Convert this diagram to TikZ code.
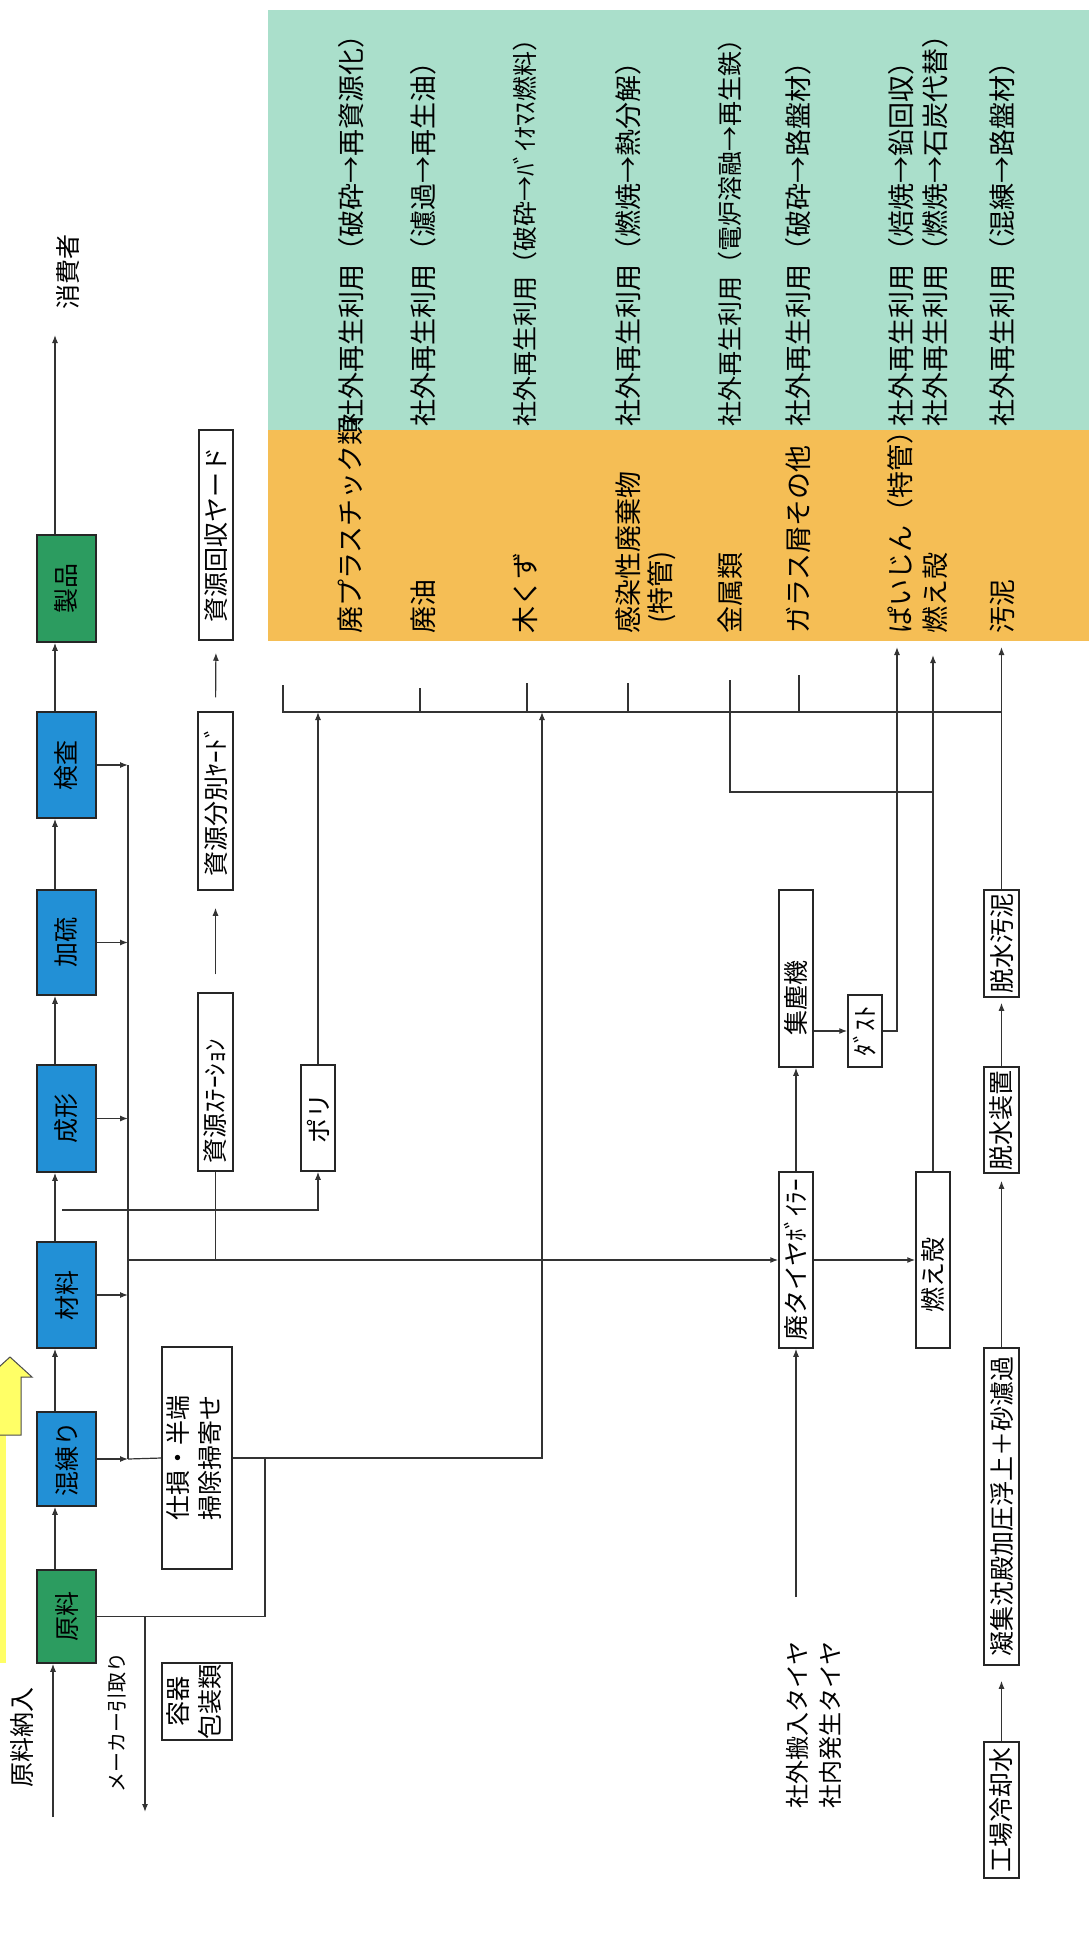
\documentclass[tikz,border=0pt]{standalone}
\usepackage{fontspec}
\setmainfont{Noto Sans CJK JP}
\usetikzlibrary{arrows.meta,calc}
\definecolor{tealbg}{HTML}{AADFCB}
\definecolor{orangebg}{HTML}{F5BE55}
\definecolor{procblue}{HTML}{2290D6}
\definecolor{procgreen}{HTML}{2C9C60}
\definecolor{arrowyellow}{HTML}{FFFF66}
\definecolor{ln}{HTML}{333333}
\newcommand{\vt}[1]{\rotatebox{90}{#1}}
\newcommand{\fbig}{\fontsize{27}{32}\selectfont}
\newcommand{\fmid}{\fontsize{25}{32}\selectfont}
\newcommand{\fsmall}{\fontsize{20}{24}\selectfont}
\begin{document}
\begin{tikzpicture}[x=1pt,y=-1pt,
  line/.style={draw=ln,line width=1.2pt},
  arr/.style={line,-{Latex[length=8pt,width=6pt]}},
  boxbase/.style={draw=black!85,line width=1.5pt,inner sep=0pt,font=\fmid},
  proc/.style={boxbase,fill=procblue,minimum width=59pt},
  procg/.style={boxbase,fill=procgreen,minimum width=59pt},
  wbox/.style={boxbase,fill=white},
  rowtxt/.style={rotate=90,anchor=west,inner sep=0pt,font=\fbig},
  lbl/.style={rotate=90,inner sep=0pt}]
\useasboundingbox (0,0) rectangle (1089,1934);
\fill[white] (0,0) rectangle (1089,1934);

% coloured table
\fill[tealbg] (268,10) rectangle (1089,430);
\fill[orangebg] (268,430) rectangle (1089,641);

% yellow block arrow (cut by the left edge)
\fill[arrowyellow] (0,1435) rectangle (6,1663);
\filldraw[fill=arrowyellow,draw=black!70,line width=1pt]
  (-1,1435) -- (21,1435) -- (21,1377) -- (32,1377) -- (10,1357) -- (-12,1377) -- (-1,1377) -- cycle;

% main process boxes
\node[procg,minimum height=107pt] (seihin) at (66.5,588.5) {\vt{製品}};
\node[proc,minimum height=106pt] (kensa) at (66.5,765) {\vt{検査}};
\node[proc,minimum height=105pt] (karyu) at (66.5,942.5) {\vt{加硫}};
\node[proc,minimum height=107pt] (seikei) at (66.5,1118.5) {\vt{成形}};
\node[proc,minimum height=106pt] (zairyo) at (66.5,1295) {\vt{材料}};
\node[proc,minimum height=94pt] (konren) at (66.5,1459) {\vt{混練り}};
\node[procg,minimum height=93pt] (genryo) at (66.5,1616.5) {\vt{原料}};

% white boxes
\node[wbox,minimum width=70pt,minimum height=222pt] (shison) at (197,1458)
  {\vt{\begin{tabular}{@{}c@{}}仕損・半端\\掃除掃寄せ\end{tabular}}};
\node[wbox,minimum width=70pt,minimum height=77pt] (yoki) at (197,1701.5)
  {\vt{\begin{tabular}{@{}c@{}}容器\\包装類\end{tabular}}};
\node[wbox,minimum width=35pt,minimum height=178pt] (station) at (215.5,1082) {\vt{資源ｽﾃｰｼｮﾝ\hspace{38pt}}};
\node[wbox,minimum width=35pt,minimum height=178pt] (bunbetsu) at (215.5,801) {\vt{資源分別ﾔｰﾄﾞ}};
\node[wbox,minimum width=34pt,minimum height=210pt] (kaishu) at (216,535) {\vt{資源回収ヤード}};
\node[wbox,minimum width=34pt,minimum height=106pt] (poly) at (318,1118) {\vt{ポリ}};
\node[wbox,minimum width=34pt,minimum height=177pt] (shujin) at (796,978.5) {\vt{集塵機\hspace{38pt}}};
\node[wbox,minimum width=34pt,minimum height=72pt] (dust) at (865,1031) {\vt{ﾀﾞｽﾄ}};
\node[wbox,minimum width=34pt,minimum height=176pt] (boiler) at (796,1260) {\vt{廃タイヤﾎﾞｲﾗｰ}};
\node[wbox,minimum width=34pt,minimum height=176pt] (moegara) at (933,1260) {\vt{燃え殻\hspace{30pt}}};
\node[wbox,minimum width=35pt,minimum height=107pt] (odei) at (1001.5,943.5) {\vt{脱水汚泥}};
\node[wbox,minimum width=35pt,minimum height=106pt] (dassui) at (1001.5,1120) {\vt{脱水装置}};
\node[wbox,minimum width=35pt,minimum height=317pt] (gyoshu) at (1001.5,1506.5) {\vt{凝集沈殿加圧浮上＋砂濾過}};
\node[wbox,minimum width=35pt,minimum height=136pt] (kojo) at (1001.5,1810) {\vt{工場冷却水}};

% free labels
\node[lbl,font=\fmid] (shohisha) at (68,272) {消費者};
\node[lbl,font=\fmid] (nonyu) at (22,1737) {原料納入};
\node[lbl,font=\fsmall] (maker) at (117,1722) {メーカー引取り};
\node[lbl,font=\fontsize{24}{28}\selectfont] (tire1) at (797,1725) {社外搬入タイヤ};
\node[lbl,font=\fontsize{24}{28}\selectfont] (tire2) at (830,1725) {社内発生タイヤ};

% table texts (teal)
\node[rowtxt] (t1) at (351,427) {社外再生利用（破砕→再資源化）};
\node[rowtxt] (t2) at (423,427) {社外再生利用（濾過→再生油）};
\node[rowtxt,font=\fontsize{25}{30}\selectfont] (t3) at (525,427) {社外再生利用（破砕→ﾊﾞｲｵﾏｽ燃料）};
\node[rowtxt] (t4) at (628,427) {社外再生利用（燃焼→熱分解）};
\node[rowtxt,font=\fontsize{25}{30}\selectfont] (t5) at (730,427) {社外再生利用（電炉溶融→再生鉄）};
\node[rowtxt] (t6) at (798,427) {社外再生利用（破砕→路盤材）};
\node[rowtxt] (t7) at (901,427) {社外再生利用（焙焼→鉛回収）};
\node[rowtxt] (t8) at (935,427) {社外再生利用（燃焼→石炭代替）};
\node[rowtxt] (t9) at (1002,427) {社外再生利用（混練→路盤材）};
% table texts (orange)
\node[rowtxt] (o1) at (350,634) {廃プラスチック類};
\node[rowtxt] (o2) at (423,634) {廃油};
\node[rowtxt] (o3) at (525,634) {木くず};
\node[rowtxt] (o4) at (628,634) {感染性廃棄物};
\node[rowtxt] (o4b) at (662,624) {(特管)};
\node[rowtxt] (o5) at (730,634) {金属類};
\node[rowtxt] (o6) at (798,634) {ガラス屑その他};
\node[rowtxt] (o7) at (900,634) {ぱいじん（特管）};
\node[rowtxt] (o8) at (935,634) {燃え殻};
\node[rowtxt] (o9) at (1002,634) {汚泥};

% helper coordinates
\coordinate (L) at (55,0);
\coordinate (C) at (128,0);
\coordinate (M) at (0,712);
\coordinate (cons) at (55,335);
\coordinate (inA) at (53,1817);
\coordinate (pl) at (62,1210);
\coordinate (m542) at (542,712);
\coordinate (j1) at (265,1459);
\coordinate (mk) at (145,1812);
\coordinate (pj) at (897,647);
\coordinate (me) at (933,655);
\coordinate (od) at (1001.5,647);
\coordinate (tin) at (796,1597);

% main flow
\draw[arr] (inA) -- (inA |- genryo.south);
\draw[arr] (L |- genryo.north) -- (L |- konren.south);
\draw[arr] (L |- konren.north) -- (L |- zairyo.south);
\draw[arr] (L |- zairyo.north) -- (L |- seikei.south);
\draw[arr] (L |- seikei.north) -- (L |- karyu.south);
\draw[arr] (L |- karyu.north) -- (L |- kensa.south);
\draw[arr] (L |- kensa.north) -- (L |- seihin.south);
\draw[arr] (L |- seihin.north) -- (cons);

% side outputs to collector line
\draw[arr] (kensa.east) -- (kensa.east -| C);
\draw[arr] (karyu.east) -- (karyu.east -| C);
\draw[arr] (seikei.east) -- (seikei.east -| C);
\draw[arr] (zairyo.east) -- (zairyo.east -| C);
\draw[arr] (konren.east) -- (konren.east -| C);
\draw[line] (kensa.east -| C) -- (konren.east -| C);
\draw[line] (konren.east -| C) -- (shison.west);

% collector to boiler and station
\draw[arr] (C |- boiler.west) -- (boiler.west);
\draw[line] (station.south) -- (station.south |- boiler.west);
\draw[arr,shorten <=18pt,shorten >=17pt] (station.north) -- (bunbetsu.south);
\draw[arr,shorten <=14pt,shorten >=12pt] (bunbetsu.north) -- (kaishu.south);

% poly
\draw[arr] (pl) -| (poly.south);
\draw[arr] (poly.north) -- (poly.north |- M);

% shison / genryo
\draw[arr] (shison.east) -| (m542);
\draw[line] (genryo.east) -| (j1);
\draw[arr] (mk |- genryo.east) -- (mk);

% main horizontal collector to table with ticks
\draw[line] (283,685) -- (283,712) -- (1001.5,712);
\draw[line] (420,688) -- (420,712);
\draw[line] (527,683) -- (527,712);
\draw[line] (628,683) -- (628,712);
\draw[line] (730,680) -- (730,792) -- (933,792);
\draw[line] (799,675) -- (799,712);

% tyre boiler part
\draw[arr] (tin) -- (boiler.south);
\draw[arr] (boiler.north) -- (shujin.south);
\draw[arr] (dust.west -| shujin.east) -- (dust.west);
\draw[arr] (dust.east) -| (pj);
\draw[arr] (boiler.east) -- (moegara.west);
\draw[arr] (moegara.north) -- (me);

% water treatment
\draw[arr,shorten >=15pt] (kojo.north) -- (gyoshu.south);
\draw[arr,shorten >=7pt] (gyoshu.north) -- (dassui.south);
\draw[arr,shorten >=5pt] (dassui.north) -- (odei.south);
\draw[arr] (odei.north) -- (od);
\end{tikzpicture}
\end{document}
